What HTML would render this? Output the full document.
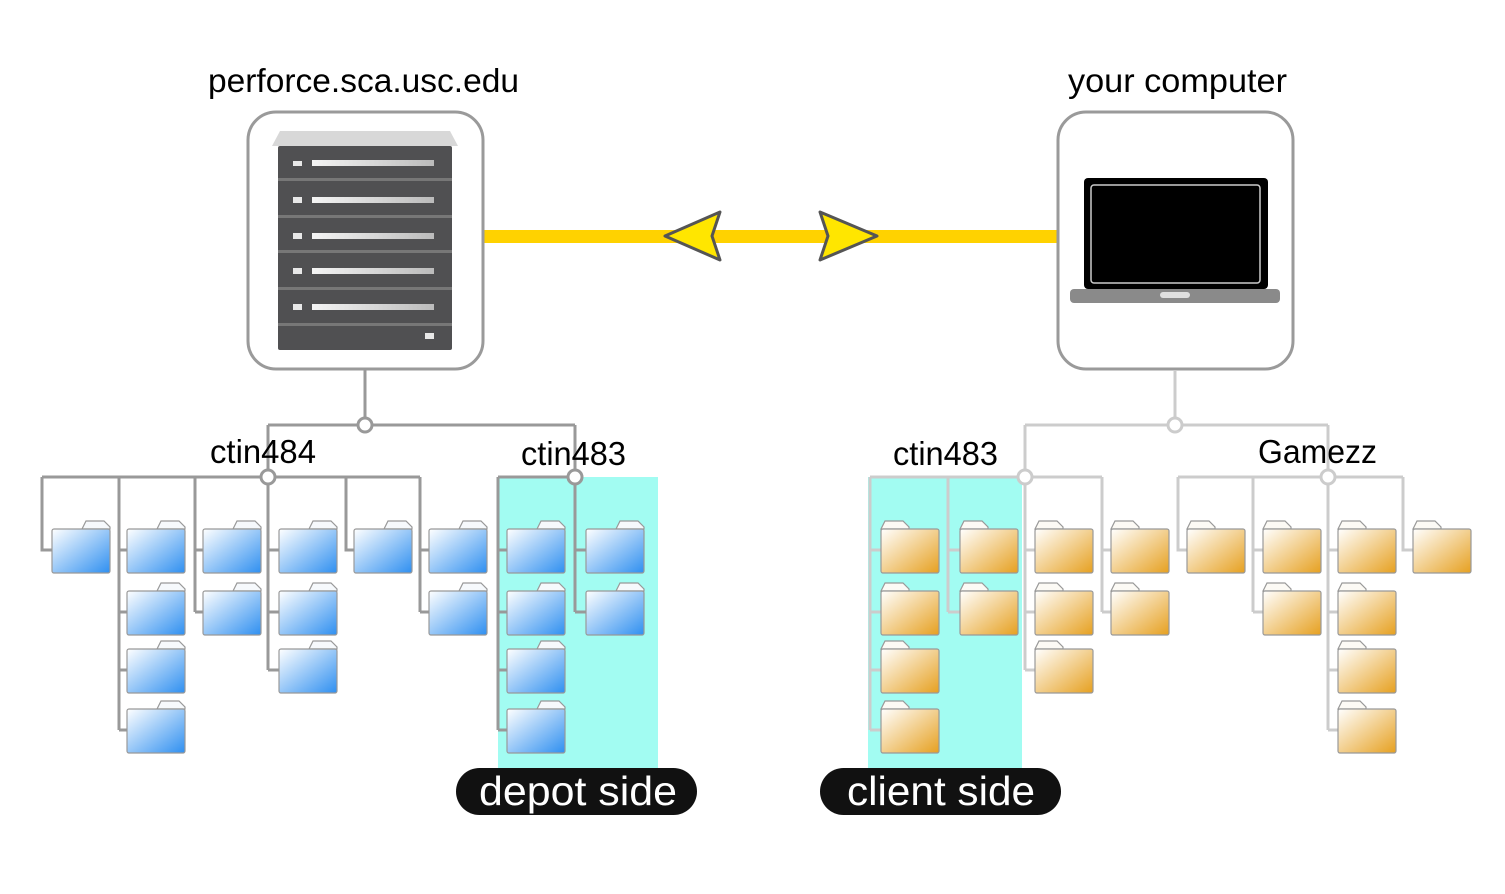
<!DOCTYPE html>
<html><head><style>
html,body{margin:0;padding:0;background:#fff;}
svg{display:block;}
text{font-family:"Liberation Sans",sans-serif;}
</style></head><body>
<svg width="1505" height="894" viewBox="0 0 1505 894" xmlns="http://www.w3.org/2000/svg">
<defs>
<linearGradient id="gb" x1="0" y1="0" x2="1" y2="1"><stop offset="0" stop-color="#ffffff"/><stop offset="1" stop-color="#2f8ff0"/></linearGradient>
<linearGradient id="go" x1="0" y1="0" x2="1" y2="1"><stop offset="0" stop-color="#ffffff"/><stop offset="1" stop-color="#e6a020"/></linearGradient>
<linearGradient id="bar" x1="0" y1="0" x2="1" y2="0"><stop offset="0" stop-color="#f4f4f4"/><stop offset="1" stop-color="#bbbbbb"/></linearGradient>
<g id="fb"><path d="M30,0 L34,-8 L52,-8 L58,-2 L58,0 Z" fill="#f6f9fc" stroke="#999" stroke-width="1.2"/><rect x="0" y="0" width="58" height="44" rx="2" fill="url(#gb)" stroke="#999" stroke-width="1.2"/></g>
<g id="fo"><path d="M0,0 L4,-8 L22,-8 L28,-2 L28,0 Z" fill="#fcfaf5" stroke="#999" stroke-width="1.2"/><rect x="0" y="0" width="58" height="44" rx="2" fill="url(#go)" stroke="#999" stroke-width="1.2"/></g>
</defs>

<text x="208" y="92" font-size="33" fill="#000" textLength="311" lengthAdjust="spacingAndGlyphs">perforce.sca.usc.edu</text>
<text x="1068" y="92" font-size="33" fill="#000" textLength="219" lengthAdjust="spacingAndGlyphs">your computer</text>

<rect x="483" y="230" width="575" height="13" fill="#ffd200"/>
<path d="M665,236 L720,212 L712,236 L720,260 Z" fill="#ffe600" stroke="#555" stroke-width="3" stroke-linejoin="round"/>
<path d="M877,236 L820,212 L828,236 L820,260 Z" fill="#ffe600" stroke="#555" stroke-width="3" stroke-linejoin="round"/>

<rect x="248" y="112" width="235" height="257" rx="28" fill="#fff" stroke="#9a9a9a" stroke-width="3"/>
<path d="M280,131 L450,131 L458,146 L272,146 Z" fill="#d8d8d8"/>
<rect x="278" y="146" width="174" height="204" rx="2" fill="#505052"/>
<g fill="#777"><rect x="278" y="178" width="174" height="3"/><rect x="278" y="215" width="174" height="3"/><rect x="278" y="250" width="174" height="3"/><rect x="278" y="287" width="174" height="3"/><rect x="278" y="323" width="174" height="3"/></g>
<g fill="#e8e8e8">
<rect x="293" y="161" width="9" height="5"/><rect x="312" y="160" width="122" height="6" fill="url(#bar)"/>
<rect x="293" y="197" width="9" height="6"/><rect x="312" y="197" width="122" height="6" fill="url(#bar)"/>
<rect x="293" y="233" width="9" height="6"/><rect x="312" y="233" width="122" height="6" fill="url(#bar)"/>
<rect x="293" y="268" width="9" height="6"/><rect x="312" y="268" width="122" height="6" fill="url(#bar)"/>
<rect x="293" y="304" width="9" height="6"/><rect x="312" y="304" width="122" height="6" fill="url(#bar)"/>
<rect x="425" y="333" width="9" height="6"/>
</g>

<rect x="1058" y="112" width="235" height="257" rx="28" fill="#fff" stroke="#9a9a9a" stroke-width="3"/>
<rect x="1084" y="178" width="184" height="111" rx="4" fill="#000"/>
<rect x="1091" y="185" width="169" height="98" rx="3" fill="#000" stroke="#ccc" stroke-width="1.5"/>
<rect x="1070" y="289" width="210" height="14" rx="4" fill="#8a8a8a"/>
<rect x="1160" y="292" width="30" height="6" rx="3" fill="#e0e0e0"/>

<rect x="498" y="477" width="160" height="293" fill="#a2fcf2"/>
<rect x="868" y="477" width="154" height="293" fill="#a2fcf2"/>

<g stroke="#999" stroke-width="3" fill="none">
<path d="M365,370 V425 M268,425 H575 M268,425 V477 M575,425 V477"/>
<path d="M42,477 H420 M498,477 H575"/>
<path d="M42,477 V550 H52"/>
<path d="M119,477 V730 M119,550 H127 M119,612 H127 M119,670 H127 M119,730 H127"/>
<path d="M195,477 V612 M195,550 H203 M195,612 H203"/>
<path d="M268,477 V670 M268,550 H279 M268,612 H279 M268,670 H279"/>
<path d="M346,477 V550 H354"/>
<path d="M420,477 V612 M420,550 H429 M420,612 H429"/>
<path d="M498,477 V730 M498,550 H507 M498,612 H507 M498,670 H507 M498,730 H507"/>
<path d="M575,477 V612 M575,550 H586 M575,612 H586"/>
</g>
<g fill="#fff" stroke="#999" stroke-width="3"><circle cx="365" cy="425" r="7"/><circle cx="268" cy="477" r="7"/><circle cx="575" cy="477" r="7"/></g>

<g stroke="#cccccc" stroke-width="3" fill="none">
<path d="M1175,370 V425 M1025,425 H1328 M1025,425 V477 M1328,425 V477"/>
<path d="M870,477 H1102 M1178,477 H1403"/>
<path d="M870,477 V730 M870,550 H881 M870,612 H881 M870,670 H881 M870,730 H881"/>
<path d="M948,477 V612 M948,550 H960 M948,612 H960"/>
<path d="M1025,477 V670 M1025,550 H1035 M1025,612 H1035 M1025,670 H1035"/>
<path d="M1102,477 V612 M1102,550 H1111 M1102,612 H1111"/>
<path d="M1178,477 V550 H1187"/>
<path d="M1253,477 V612 M1253,550 H1263 M1253,612 H1263"/>
<path d="M1328,477 V730 M1328,550 H1338 M1328,612 H1338 M1328,670 H1338 M1328,730 H1338"/>
<path d="M1403,477 V550 H1413"/>
</g>
<g fill="#fff" stroke="#ccc" stroke-width="3"><circle cx="1175" cy="425" r="7"/><circle cx="1025" cy="477" r="7"/><circle cx="1328" cy="477" r="7"/></g>

<use href="#fb" x="52" y="529"/>
<use href="#fb" x="127" y="529"/><use href="#fb" x="127" y="591"/><use href="#fb" x="127" y="649"/><use href="#fb" x="127" y="709"/>
<use href="#fb" x="203" y="529"/><use href="#fb" x="203" y="591"/>
<use href="#fb" x="279" y="529"/><use href="#fb" x="279" y="591"/><use href="#fb" x="279" y="649"/>
<use href="#fb" x="354" y="529"/>
<use href="#fb" x="429" y="529"/><use href="#fb" x="429" y="591"/>
<use href="#fb" x="507" y="529"/><use href="#fb" x="507" y="591"/><use href="#fb" x="507" y="649"/><use href="#fb" x="507" y="709"/>
<use href="#fb" x="586" y="529"/><use href="#fb" x="586" y="591"/>

<use href="#fo" x="881" y="529"/><use href="#fo" x="881" y="591"/><use href="#fo" x="881" y="649"/><use href="#fo" x="881" y="709"/>
<use href="#fo" x="960" y="529"/><use href="#fo" x="960" y="591"/>
<use href="#fo" x="1035" y="529"/><use href="#fo" x="1035" y="591"/><use href="#fo" x="1035" y="649"/>
<use href="#fo" x="1111" y="529"/><use href="#fo" x="1111" y="591"/>
<use href="#fo" x="1187" y="529"/>
<use href="#fo" x="1263" y="529"/><use href="#fo" x="1263" y="591"/>
<use href="#fo" x="1338" y="529"/><use href="#fo" x="1338" y="591"/><use href="#fo" x="1338" y="649"/><use href="#fo" x="1338" y="709"/>
<use href="#fo" x="1413" y="529"/>

<text x="210" y="463" font-size="33" fill="#000" textLength="106" lengthAdjust="spacingAndGlyphs">ctin484</text>
<text x="521" y="465" font-size="33" fill="#000" textLength="105" lengthAdjust="spacingAndGlyphs">ctin483</text>
<text x="893" y="465" font-size="33" fill="#000" textLength="105" lengthAdjust="spacingAndGlyphs">ctin483</text>
<text x="1258" y="463" font-size="33" fill="#000" textLength="119" lengthAdjust="spacingAndGlyphs">Gamezz</text>

<rect x="456" y="768" width="241" height="47" rx="23.5" fill="#111"/>
<text x="479" y="805" font-size="41" fill="#fff" textLength="198" lengthAdjust="spacingAndGlyphs">depot side</text>
<rect x="820" y="768" width="241" height="47" rx="23.5" fill="#111"/>
<text x="847" y="805" font-size="41" fill="#fff" textLength="188" lengthAdjust="spacingAndGlyphs">client side</text>
</svg>
</body></html>
